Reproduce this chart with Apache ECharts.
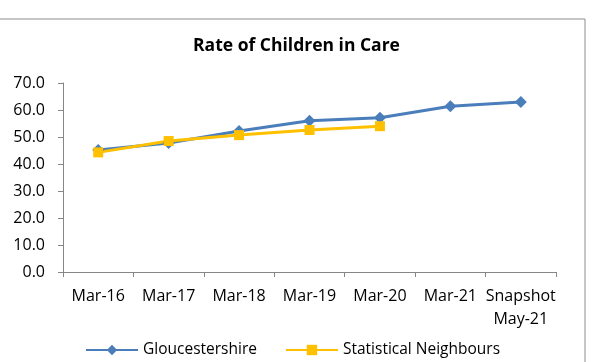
<!DOCTYPE html>
<html>
<head>
<meta charset="utf-8">
<script src="https://cdn.jsdelivr.net/npm/echarts@6/dist/echarts.min.js"></script>
<style>
  html, body { margin: 0; padding: 0; background: #fff; }
  #chart { width: 593px; height: 362px; }
</style>
</head>
<body>
<div id="chart"></div>
<script>
// categories and values
var _CATEGORIES = ['Mar-16', 'Mar-17', 'Mar-18', 'Mar-19', 'Mar-20', 'Mar-21', 'Snapshot\nMay-21'];
var _GLOUCS = [45.2, 47.8, 52.2, 56.0, 57.1, 61.4, 63.0];
var _NEIGHBOURS = [44.3, 48.5, 50.7, 52.6, 54.0, null, null];

var FONT = 'Open Sans';

var myChart = echarts.init(document.getElementById('chart'));

myChart.setOption({
  animation: false,
  textStyle: { fontFamily: FONT, color: '#000' },
  title: {
    text: 'Rate of Children in Care',
    left: 'center',
    top: 32,
    textStyle: { fontFamily: FONT, fontSize: 17.5, fontWeight: 'bold', color: '#000' }
  },
  graphic: [{
    type: 'rect',
    shape: { x: -2, y: 19, width: 587, height: 360 },
    style: { fill: 'none', stroke: '#8c8c8c', lineWidth: 1 },
    silent: true
  }],
  grid: { left: 63, right: 37, top: 83, bottom: 90 },
  legend: {
    top: 337,
    left: 80,
    itemGap: 28,
    itemWidth: 52,
    itemHeight: 13,
    textStyle: { fontFamily: FONT, fontSize: 15.5, color: '#000' },
    data: ['Gloucestershire', 'Statistical Neighbours']
  },
  xAxis: {
    type: 'category',
    data: _CATEGORIES,
    boundaryGap: true,
    axisLine: { lineStyle: { color: '#868686', width: 1 } },
    axisTick: { show: true, length: 5, lineStyle: { color: '#868686' } },
    axisLabel: { color: '#000', fontSize: 16, fontFamily: FONT, margin: 13, lineHeight: 23, interval: 0 }
  },
  yAxis: {
    type: 'value',
    min: 0,
    max: 70,
    interval: 10,
    axisLine: { show: true, lineStyle: { color: '#868686', width: 1 } },
    axisTick: { show: true, length: 5, lineStyle: { color: '#868686' } },
    splitLine: { show: false },
    axisLabel: {
      color: '#000', fontSize: 16, fontFamily: FONT, margin: 18,
      formatter: function (v) { return v.toFixed(1); }
    }
  },
  series: [
    {
      name: 'Gloucestershire',
      type: 'line',
      data: _GLOUCS,
      symbol: 'diamond',
      symbolSize: 12,
      color: '#4a7ebb',
      lineStyle: { width: 3, color: '#4a7ebb' },
      itemStyle: { color: '#4a7ebb' }
    },
    {
      name: 'Statistical Neighbours',
      type: 'line',
      data: _NEIGHBOURS,
      symbol: 'rect',
      symbolSize: 10,
      color: '#ffc000',
      lineStyle: { width: 3, color: '#ffc000' },
      itemStyle: { color: '#ffc000' }
    }
  ]
});
</script>
</body>
</html>
